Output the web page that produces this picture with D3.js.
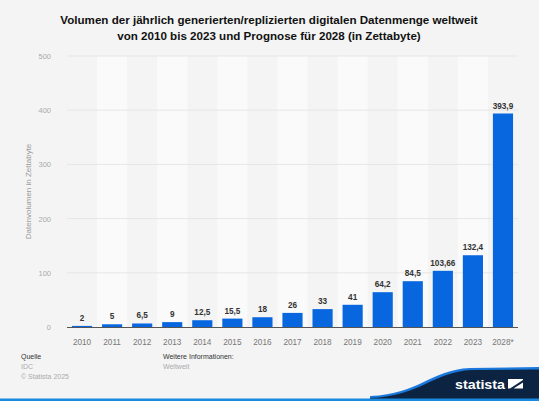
<!DOCTYPE html>
<html><head><meta charset="utf-8">
<script src="https://cdn.jsdelivr.net/npm/d3@7"></script>
<style>
html,body{margin:0;padding:0;background:#f4f4f4;}
svg{display:block;font-family:"Liberation Sans",Arial,sans-serif;}
</style></head><body>
<script>
const categories = ["2010","2011","2012","2013","2014","2015","2016","2017","2018","2019","2020","2021","2022","2023","2028*"];
const values = [2,5,6.5,9,12.5,15.5,18,26,33,41,64.2,84.5,103.66,132.4,393.9];
const valueLabels = ["2","5","6,5","9","12,5","15,5","18","26","33","41","64,2","84,5","103,66","132,4","393,9"];
const yTicks = [0,100,200,300,400,500];
const titleLines = ["Volumen der jährlich generierten/replizierten digitalen Datenmenge weltweit","von 2010 bis 2023 und Prognose für 2028 (in Zettabyte)"];

const W=539,H=401;
const svg=d3.select("body").append("svg").attr("width",W).attr("height",H);
svg.append("rect").attr("width",W).attr("height",H).attr("fill","#f4f4f4");

const x=d3.scaleBand().domain(categories).range([67,518]).paddingInner(0.33).paddingOuter(0.165);
const xb=d3.scaleBand().domain(categories).range([67,518]);
const y=d3.scaleLinear().domain([0,500]).range([327,56]);

// alternating bands
svg.append("g").selectAll("rect").data(categories.filter((d,i)=>i%2===1)).join("rect")
  .attr("x",d=>xb(d)).attr("width",xb.bandwidth()).attr("y",y(500)).attr("height",y(0)-y(500))
  .attr("fill","#fafafa");

// gridlines
svg.append("g").selectAll("line").data(yTicks.filter(t=>t>0)).join("line")
  .attr("x1",67).attr("x2",518).attr("y1",d=>y(d)).attr("y2",d=>y(d))
  .attr("stroke","#e6e6e6").attr("stroke-width",1);

// y tick labels
svg.append("g").selectAll("text").data(yTicks).join("text")
  .attr("x",51).attr("y",d=>y(d)+3).attr("text-anchor","end")
  .attr("font-size",7.5).attr("fill","#aaa").text(d=>d);

// y axis label
svg.append("text").attr("transform",`translate(31,${(y(0)+y(500))/2}) rotate(-90)`)
  .attr("text-anchor","middle").attr("font-size",8).attr("fill","#999").text("Datenvolumen in Zettabyte");

// bars
svg.append("g").selectAll("rect").data(values).join("rect")
  .attr("x",(d,i)=>x(categories[i])).attr("width",x.bandwidth())
  .attr("y",d=>y(d)).attr("height",d=>y(0)-y(d)).attr("fill","#0866de");

// baseline
svg.append("line").attr("x1",67).attr("x2",518).attr("y1",y(0)+0.5).attr("y2",y(0)+0.5)
  .attr("stroke","#555").attr("stroke-width",1);

// value labels
svg.append("g").selectAll("text").data(values).join("text")
  .attr("x",(d,i)=>x(categories[i])+x.bandwidth()/2).attr("y",d=>y(d)-5)
  .attr("text-anchor","middle").attr("font-size",8.2).attr("font-weight","bold").attr("fill","#333")
  .text((d,i)=>valueLabels[i]);

// x tick labels
svg.append("g").selectAll("text").data(categories).join("text")
  .attr("x",d=>x(d)+x.bandwidth()/2).attr("y",345)
  .attr("text-anchor","middle").attr("font-size",8.2).attr("fill","#777").text(d=>d);

// title
svg.append("g").selectAll("text").data(titleLines).join("text")
  .attr("x",269).attr("y",(d,i)=>24+i*15.5).attr("text-anchor","middle")
  .attr("font-size",11.6).attr("font-weight","bold").attr("fill","#111").text(d=>d);

// footer
const f=svg.append("g").attr("font-size",7);
f.append("text").attr("x",21).attr("y",359).attr("fill","#333").text("Quelle");
f.append("text").attr("x",21).attr("y",369).attr("fill","#aaa").text("IDC");
f.append("text").attr("x",21).attr("y",379).attr("fill","#aaa").text("© Statista 2025");
f.append("text").attr("x",163).attr("y",359).attr("fill","#333").text("Weitere Informationen:");
f.append("text").attr("x",163).attr("y",369).attr("fill","#aaa").text("Weltweit");

// logo
svg.append("path").attr("d","M370,401 L370,396 C420,394 430,370 470,368 L539,367 L539,401 Z").attr("fill","#1b78dc");
svg.append("path").attr("d","M370,401 L370,398 C422,396 432,372 472,370 L539,369.5 L539,401 Z").attr("fill","#0c2442");
svg.append("rect").attr("x",0).attr("y",398.5).attr("width",W).attr("height",2.5).attr("fill","#1a8ae0");
svg.append("text").attr("x",455).attr("y",388.5).attr("font-size",13.5).attr("font-weight","bold")
  .attr("fill","#fff").attr("textLength",50).attr("lengthAdjust","spacingAndGlyphs").text("statista");
svg.append("path").attr("d","M508,379 H523 V380 L510,388.5 H508 Z").attr("fill","#fff");
svg.append("path").attr("d","M523,382.5 V388.5 H513.5 Z").attr("fill","#fff");
</script>
</body></html>
